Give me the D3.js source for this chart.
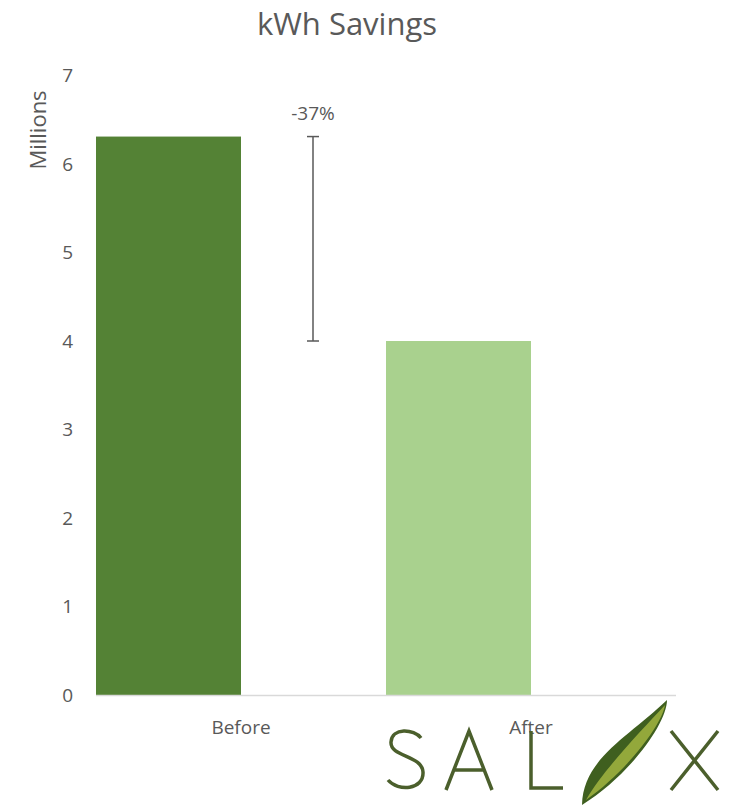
<!DOCTYPE html>
<html>
<head>
<meta charset="utf-8">
<script src="https://cdn.jsdelivr.net/npm/d3@7"></script>
<style>
  body { margin: 0; background: #fff; }
  text { font-family: "Open Sans", "Noto Sans", sans-serif; fill: #595959; }
</style>
</head>
<body>
<div id="chart"></div>
<script>
// data
var categories = ["Before", "After"];
var kwhValues = [6.31, 4.0];          // millions
var yTicks = [0, 1, 2, 3, 4, 5, 6, 7];
var changeLabel = "-37%";

var W = 738, H = 807;
var margin = { top: 75.5, right: 62, bottom: 112, left: 96 },
  width = W - margin.left - margin.right,
  height = H - margin.top - margin.bottom;

var svg = d3.select("#chart").append("svg")
  .attr("width", W).attr("height", H);

// title
svg.append("text")
  .attr("x", 347).attr("y", 35)
  .attr("text-anchor", "middle")
  .style("font-size", "31px")
  .text("kWh Savings");

var g = svg.append("g")
  .attr("transform", "translate(" + margin.left + "," + margin.top + ")");

var x = d3.scaleBand().domain(categories).range([0, width]).padding(0);
// two slots per category: the bar and an empty slot holding the change marker
var slot = d3.scaleBand().domain(["bar", "change"]).range([0, x.bandwidth()]);
var y = d3.scaleLinear().domain([0, 7]).range([height, 0]);

// y tick labels (no axis line)
var yAxis = g.append("g").call(d3.axisLeft(y).tickValues(yTicks)
  .tickFormat(d3.format("d")).tickSize(0).tickPadding(23));
yAxis.select(".domain").remove();
yAxis.selectAll("text").style("font-size", "19px").attr("fill", "#595959")
  .style("font-family", "'Open Sans', sans-serif");

svg.append("text")
  .attr("transform", "translate(46,130) rotate(-90)")
  .attr("text-anchor", "middle")
  .style("font-size", "22px")
  .text("Millions");

var colors = ["#548235", "#a9d18e"];

g.selectAll(".bar")
  .data(categories)
  .enter().append("rect")
  .attr("x", function (d) { return x(d) + slot("bar"); })
  .attr("y", function (d, i) { return y(kwhValues[i]); })
  .attr("width", slot.bandwidth())
  .attr("height", function (d, i) { return height - y(kwhValues[i]); })
  .attr("fill", function (d, i) { return colors[i]; });

// baseline
g.append("line")
  .attr("x1", 0).attr("x2", width)
  .attr("y1", height + 0.5).attr("y2", height + 0.5)
  .attr("stroke", "#d9d9d9").attr("stroke-width", 1.5);

// change marker (error-bar style)
var cx = x(categories[0]) + slot("change") + slot.bandwidth() / 2 - 0.5;
var eb = g.append("g").attr("stroke", "#595959").attr("stroke-width", 1.5);
eb.append("line").attr("x1", cx).attr("x2", cx)
  .attr("y1", y(kwhValues[0])).attr("y2", y(kwhValues[1]));
[kwhValues[0], kwhValues[1]].forEach(function (v) {
  eb.append("line").attr("x1", cx - 6).attr("x2", cx + 6)
    .attr("y1", y(v)).attr("y2", y(v));
});
g.append("text")
  .attr("x", cx).attr("y", y(kwhValues[0]) - 17)
  .attr("text-anchor", "middle")
  .style("font-size", "19px")
  .text(changeLabel);

// logo (SALIX)
var logo = svg.append("g")
  .attr("fill", "none").attr("stroke", "#4b5f2c").attr("stroke-width", 3.5)
  .attr("stroke-linecap", "butt");
logo.append("path")
  .attr("d", "M421,738 C414,729 392,727 391,742 C390,757 422,755 423,772 C424,790 398,792 388,780");
logo.append("path").attr("d", "M446,790 L469,731 L492,790 M454,770 L484,770");
logo.append("path").attr("d", "M531,731 L531,788 L563,788");
logo.append("path").attr("d", "M671,731 L718,790 M718,731 L671,790");
// leaf: dark outline, olive inner half
svg.append("path")
  .attr("d", "M582,805 C583,758 630,736 667,700 C667,723 630,775 582,805 Z")
  .attr("fill", "#3f5f1f");
svg.append("path")
  .attr("d", "M586,800 C603,770 642,730 665,705 C662,725 626,772 586,800 Z")
  .attr("fill", "#93a83b");

// category labels
g.selectAll(".cat")
  .data(categories)
  .enter().append("text")
  .attr("x", function (d) { return x(d) + x.bandwidth() / 2; })
  .attr("y", height + 39)
  .attr("text-anchor", "middle")
  .style("font-size", "19px")
  .text(function (d) { return d; });
</script>
</body>
</html>
